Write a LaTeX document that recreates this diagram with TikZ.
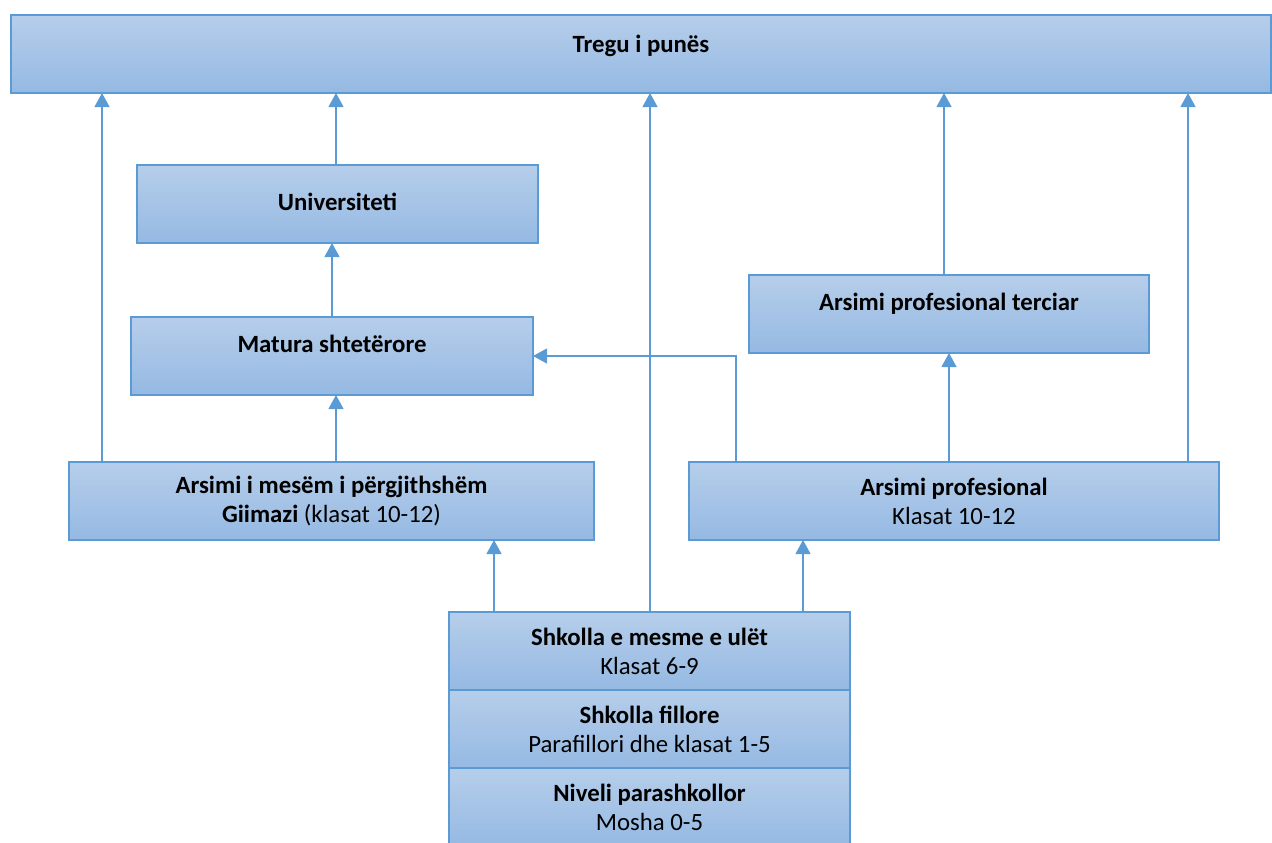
\documentclass[tikz,border=0pt]{standalone}
\usepackage{fontspec}
\setmainfont{Carlito}
\usetikzlibrary{arrows.meta,positioning}
\definecolor{boxline}{RGB}{91,155,213}
\definecolor{boxtop}{RGB}{182,206,234}
\definecolor{boxbot}{RGB}{149,185,227}

\begin{document}
\begin{tikzpicture}[%
      x=0.5pt, y=-0.5pt,
      box/.style={draw=boxline, line width=0.75pt, top color=boxtop, bottom color=boxbot,
        minimum height=39pt, outer sep=0pt, align=center,
        font=\fontsize{12.4pt}{14.5pt}\selectfont},
      onebox/.style={box, text height=11pt, text depth=#1},
      onebox/.default=2.5pt,
      arr/.style={draw=boxline, line width=0.6pt, -{Triangle[width=7.5pt,length=7pt]}},
      ]
      \useasboundingbox (0,0) rectangle (1272,842);

      \node[onebox=13pt, minimum width=630pt] (tregu) at (641,54) {\textbf{Tregu i punës}};
      \node[onebox=4.5pt, minimum width=200.5pt] (univ) at (337.5,204) {\textbf{Universiteti}};
      \node[onebox=15pt, minimum width=201pt] (matura) at (332,356) {\textbf{Matura shtetërore}};
      \node[onebox=15pt, minimum width=200pt] (terciar) at (949,314) {\textbf{Arsimi profesional terciar}};
      \node[box, minimum width=262.5pt] (pergj) at (331.5,501) {\textbf{Arsimi i mesëm i përgjithshëm}\\\textbf{Giimazi} (klasat 10-12)};
      \node[box, minimum width=265pt] (prof) at (954,501) {\textbf{Arsimi profesional}\\Klasat 10-12};
      \node[box, minimum width=200.5pt] (ulet) at (649.5,651) {\textbf{Shkolla e mesme e ulët}\\Klasat 6-9};
      \node[box, minimum width=200.5pt, below=0pt of ulet] (fillore) {\textbf{Shkolla fillore}\\Parafillori dhe klasat 1-5};
      \node[box, minimum width=200.5pt, below=0pt of fillore] (parash) {\textbf{Niveli parashkollor}\\Mosha 0-5};

      \coordinate (c1) at (102,0);
      \coordinate (c2) at (336,0);
      \coordinate (c3) at (650,0);
      \coordinate (c4) at (944,0);
      \coordinate (c5) at (1188,0);
      \coordinate (c6) at (494,0);
      \coordinate (c7) at (803,0);
      \coordinate (c8) at (736,0);
      \coordinate (c9) at (949,0);

      \draw[arr] (pergj.north -| c1) -- (tregu.south -| c1);
      \draw[arr] (univ.north -| c2) -- (tregu.south -| c2);
      \draw[arr] (terciar.north -| c4) -- (tregu.south -| c4);
      \draw[arr] (prof.north -| c5) -- (tregu.south -| c5);
      \draw[arr] (matura.north) -- (matura.north |- univ.south);
      \draw[arr] (pergj.north -| c2) -- (matura.south -| c2);
      \draw[arr] (prof.north -| c9) -- (terciar.south -| c9);
      \draw[arr] (prof.north -| c8) |- (matura.east);
      \draw[arr] (ulet.north -| c3) -- (tregu.south -| c3);
      \draw[arr] (ulet.north -| c6) -- (pergj.south -| c6);
      \draw[arr] (ulet.north -| c7) -- (prof.south -| c7);
\end{tikzpicture}
\end{document}
